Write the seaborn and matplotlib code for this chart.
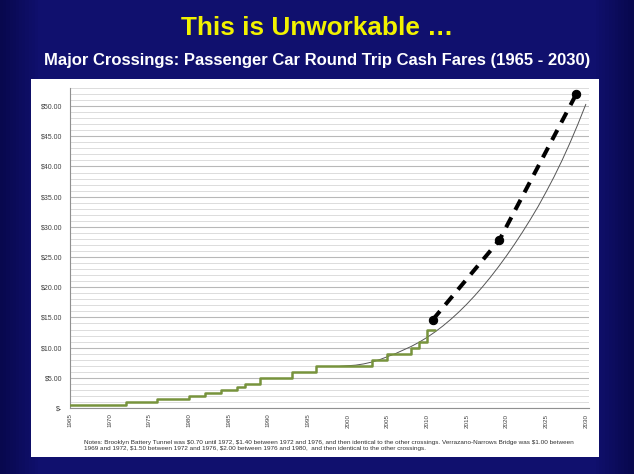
import numpy as np
import pandas as pd
import matplotlib
matplotlib.use("Agg")
import matplotlib.pyplot as plt
import matplotlib.ticker as mticker
from matplotlib.patches import Rectangle
import seaborn as sns

# dati
step_years = [1965, 1972, 1976, 1980, 1982, 1984, 1986, 1987, 1989, 1993, 1996,
              2003, 2005, 2008, 2009, 2010, 2011]
step_fares = [0.5, 1.0, 1.5, 2.0, 2.5, 3.0, 3.5, 4.0, 5.0, 6.0, 7.0,
              8.0, 9.0, 10.0, 11.0, 13.0, 13.0]

trend_years = list(range(1999, 2031))
trend_fares = [6.9, 7.0, 7.1, 7.3, 7.6, 8.0, 8.5, 9.0, 9.6, 10.2, 10.9, 11.7,
               12.6, 13.6, 14.7, 15.9, 17.2, 18.6, 20.1, 21.7, 23.4, 25.2,
               27.1, 29.1, 31.2, 33.4, 35.8, 38.3, 41.0, 43.9, 47.0, 50.3]

proj_years = [2010.7, 2019.1, 2028.8]
proj_fares = [14.6, 27.8, 52.0]

x_ticks = list(range(1965, 2031, 5))

steps = pd.DataFrame({"anno": step_years, "tariffa": step_fares})
trend = pd.DataFrame({"anno": trend_years, "tariffa": trend_fares})
proj = pd.DataFrame({"anno": proj_years, "tariffa": proj_fares})

sns.set_style("white")
plt.rcParams["font.family"] = ["Liberation Sans", "DejaVu Sans"]

W, H = 634, 474
fig = plt.figure(figsize=(W / 100, H / 100), dpi=100)
fig.patch.set_facecolor("#0b0b58")

# sfondo blu con leggero gradiente
bg = fig.add_axes([0, 0, 1, 1], zorder=-10)
gx = np.linspace(0, 1, 200)
grad = np.clip(np.minimum(gx / 0.06, (1 - gx) / 0.06), 0, 1)
img = np.zeros((1, 200, 3))
dark = np.array([8, 8, 78]) / 255
light = np.array([16, 16, 110]) / 255
img[0] = dark + (light - dark) * grad[:, None]
bg.imshow(img, aspect="auto", extent=[0, 1, 0, 1])
bg.set_xlim(0, 1)
bg.set_ylim(0, 1)
bg.axis("off")

# pannello bianco
fig.patches.append(Rectangle((31 / W, 1 - 457 / H), (599 - 31) / W, (457 - 79) / H,
                             transform=fig.transFigure, facecolor="white",
                             edgecolor="none", zorder=-5))

fig.text(0.5, 1 - 28 / H, "This is Unworkable …", ha="center", va="center",
         color="#f2f200", fontsize=18.8, fontweight="bold")
fig.text(0.5, 1 - 60 / H, "Major Crossings: Passenger Car Round Trip Cash Fares (1965 - 2030)",
         ha="center", va="center", color="white", fontsize=12, fontweight="bold")

ax = fig.add_axes([70 / W, 1 - 408 / H, (589 - 70) / W, (408 - 88) / H])
ax.set_facecolor("white")

sns.lineplot(data=steps, x="anno", y="tariffa", drawstyle="steps-post",
             color="#77933c", linewidth=1.8, ax=ax, zorder=3)
sns.lineplot(data=trend, x="anno", y="tariffa", color="#555555",
             linewidth=0.7, ax=ax, zorder=2)
sns.lineplot(data=proj, x="anno", y="tariffa", color="black", linewidth=2.9,
             linestyle=(0, (2.8, 2.1)), marker="o", markersize=6,
             markeredgecolor="black", ax=ax, zorder=4)

ax.set_xlim(1965, 2030.4)
ax.set_ylim(0, 53)
ax.set_xticks(x_ticks)
ax.set_xticklabels([str(y) for y in x_ticks], rotation=90, fontsize=4.5, color="#404040")
ax.yaxis.set_major_locator(mticker.MultipleLocator(5))
ax.yaxis.set_minor_locator(mticker.MultipleLocator(1))
ax.yaxis.set_major_formatter(mticker.FuncFormatter(
    lambda v, p: "$-" if v == 0 else f"${v:.2f}"))
ax.tick_params(axis="y", labelsize=5, labelcolor="#404040", length=2, color="#888888")
ax.tick_params(axis="x", length=2, color="#888888", pad=2)
ax.grid(which="major", axis="y", color="#b8b8b8", linewidth=0.8)
ax.grid(which="minor", axis="y", color="#dcdcdc", linewidth=0.7)
ax.set_axisbelow(True)
ax.set_xlabel("")
ax.set_ylabel("")
for s in ["top", "right"]:
    ax.spines[s].set_visible(False)
for s in ["left", "bottom"]:
    ax.spines[s].set_color("#909090")
    ax.spines[s].set_linewidth(0.8)

nota = (r"Notes: Brooklyn Battery Tunnel was \$0.70 until 1972, \$1.40 between 1972 and 1976, "
        r"and then identical to the other crossings. Verrazano-Narrows Bridge was \$1.00 between"
        "\n"
        r"1969 and 1972, \$1.50 between 1972 and 1976, \$2.00 between 1976 and 1980,  "
        r"and then identical to the other crossings.")
fig.text(84 / W, 1 - 440 / H, nota, ha="left", va="top", fontsize=4.6,
         color="#303030", linespacing=1.35)

fig.savefig("out.png", dpi=100, facecolor=fig.get_facecolor())
